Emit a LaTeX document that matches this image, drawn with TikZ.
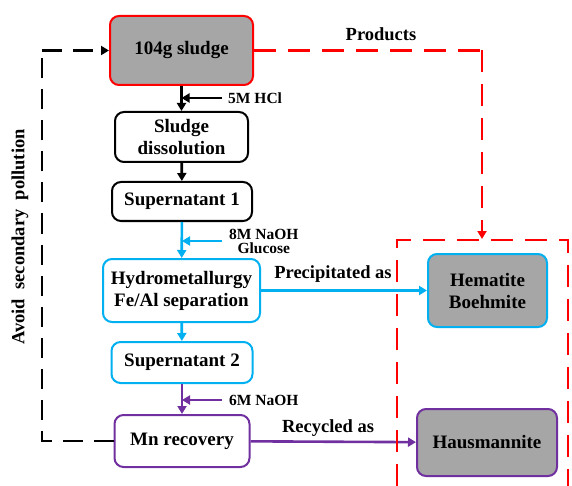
\documentclass[tikz,border=0pt]{standalone}
\usepackage{fontspec}
\setmainfont{Liberation Serif}
\usetikzlibrary{arrows.meta}

\definecolor{redline}{RGB}{255,0,0}
\definecolor{blueline}{RGB}{0,176,240}
\definecolor{purpleline}{RGB}{112,48,160}
\definecolor{boxgray}{RGB}{166,166,166}

\tikzset{
  stepbox/.style={draw, line width=2pt, rounded corners=9pt, align=center,
    inner sep=0pt, font=\fontsize{19}{22}\selectfont\bfseries},
  flow/.style={line width=2.6pt, -{Triangle[width=9pt,length=8pt]}},
  chem/.style={anchor=west, inner sep=0pt, align=center,
    font=\fontsize{15.5}{14}\selectfont\bfseries},
  tag/.style={inner sep=0pt, font=\fontsize{18.5}{20}\selectfont\bfseries},
  reddash/.style={redline, line width=2.6pt, dash pattern=on 22pt off 12pt},
  blackdash/.style={black, line width=2.6pt, dash pattern=on 20pt off 11pt}
}

\begin{document}
\begin{tikzpicture}[x=1pt,y=-1pt]
    \useasboundingbox (0,0) rectangle (572,486);

    % Main process boxes
    \node[stepbox, draw=redline, fill=boxgray, minimum width=143, minimum height=69] (sludge) at (181.5,50.5) {104g sludge};
    \node[stepbox, minimum width=133, minimum height=50] (dissol) at (181.5,137) {Sludge\\dissolution};
    \node[stepbox, minimum width=140, minimum height=39] (super1) at (182,201.5) {Supernatant 1};
    \node[stepbox, draw=blueline, minimum width=157, minimum height=63] (hydro) at (181.5,290.5) {Hydrometallurgy\\Fe/Al separation};
    \node[stepbox, draw=blueline, minimum width=141, minimum height=41] (super2) at (182,362.5) {Supernatant 2};
    \node[stepbox, draw=purpleline, minimum width=135, minimum height=52] (mnrec) at (182,441) {Mn recovery};

    % Product boxes
    \node[stepbox, draw=blueline, fill=boxgray, minimum width=119, minimum height=73] (hematite) at (487.5,290.5) {Hematite\\Boehmite};
    \node[stepbox, draw=purpleline, fill=boxgray, minimum width=140, minimum height=67] (hausm) at (487,442.5) {Hausmannite};

    % Main flow
    \draw[flow] (sludge) -- (dissol);
    \draw[flow] (dissol) -- (super1);
    \draw[flow, blueline] (super1) -- (hydro);
    \draw[flow, blueline] (hydro) -- (super2);
    \draw[flow, purpleline] (super2) -- (mnrec);

    % Reagents
    \coordinate (hcl) at (222,98);
    \coordinate (naoh1) at (222,241);
    \coordinate (naoh2) at (222,400);
    \draw[flow] (hcl) -- (hcl -| sludge.south);
    \draw[flow, blueline] (naoh1) -- (naoh1 -| super1.south);
    \draw[flow, purpleline] (naoh2) -- (naoh2 -| super2.south);
    \node[chem] (hcllabel) at (228,98) {5M HCl};
    \node[chem] (naoh1label) at (229,241) {8M NaOH\\Glucose};
    \node[chem] (naoh2label) at (229,400) {6M NaOH};

    % Outputs
    \draw[flow, blueline] (hydro) -- (hematite);
    \draw[flow, purpleline] (mnrec) -- (hausm);
    \node[tag] (preclabel) at (333,274) {Precipitated as};
    \node[tag] (reclabel) at (328,428) {Recycled as};

    % Products frame
    \coordinate (prodturn) at (482,50.5);
    \coordinate (prodend) at (482,239);
    \draw[reddash] (sludge) -- (prodturn);
    \draw[reddash, -{Triangle[width=9pt,length=8pt]}] (prodturn) -- (prodend);
    \draw[reddash] (397,486) -- (397,240) -- (568,240) -- (568,486);
    \node[tag] (prodlabel) at (381,34) {Products};

    % Recycle loop
    \coordinate (loopbot) at (42,441);
    \coordinate (looptop) at (42,50.5);
    \draw[blackdash] (mnrec) -- (loopbot) -- (looptop);
    \draw[blackdash, -{Triangle[width=9pt,length=8pt]}] (looptop) -- (sludge);
    \node[tag, rotate=90] (looplabel) at (20,237) {Avoid\ \ secondary\ \ pollution};
\end{tikzpicture}
\end{document}
